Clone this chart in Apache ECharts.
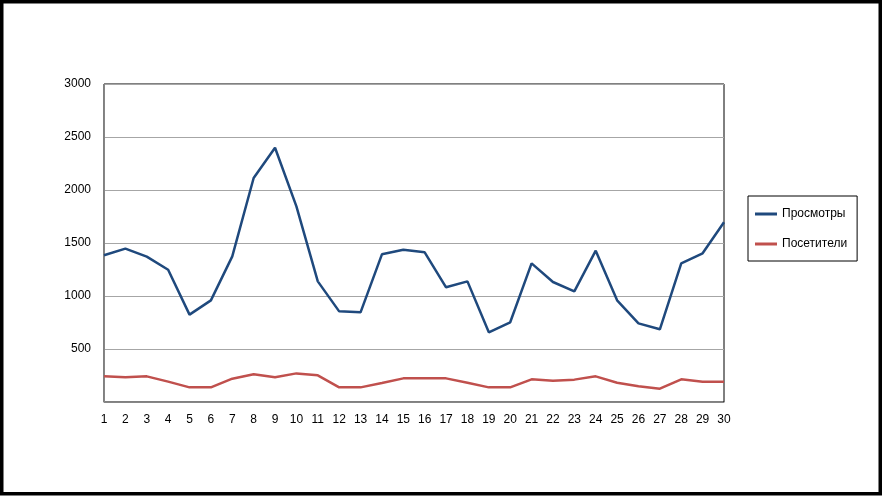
<!DOCTYPE html>
<html>
<head>
<meta charset="utf-8">
<script src="https://cdn.jsdelivr.net/npm/echarts@6/dist/echarts.min.js"></script>
<style>
html,body{margin:0;padding:0;background:#fff;}
#c{width:882px;height:497px;}
</style>
</head>
<body>
<div id="c"></div>
<script>
const days = ['1','2','3','4','5','6','7','8','9','10','11','12','13','14','15','16','17','18','19','20','21','22','23','24','25','26','27','28','29','30'];
const views = [1384,1447,1371,1248,824,959,1374,2113,2399,1846,1138,855,846,1393,1437,1412,1082,1138,657,752,1308,1132,1044,1428,959,742,686,1308,1403,1695];
const visitors = [242,233,242,192,138,138,220,261,233,270,252,138,138,179,223,223,223,182,138,138,214,201,211,242,182,148,126,214,192,192];
const seriesNames = ['Просмотры','Посетители'];
const yTicks = {min:0, max:3000, step:500};

const font = 'Liberation Sans';
const chart = echarts.init(document.getElementById('c'), null, {renderer:'canvas'});
chart.setOption({
  animation:false,
  backgroundColor:'#fff',
  graphic:[{
    type:'rect', silent:true, z:100,
    shape:{x:1.75, y:1.75, width:878.5, height:492},
    style:{fill:'none', stroke:'#000', lineWidth:3.5}
  }],
  grid:{left:104, right:158, top:84, bottom:95, show:true, borderColor:'#000', borderWidth:1, backgroundColor:'transparent'},
  legend:{
    orient:'vertical', left:748, top:196,
    padding:[12,10,11,7],
    itemGap:18,
    itemWidth:22, itemHeight:3,
    icon:'rect',
    borderColor:'#000', borderWidth:1,
    textStyle:{fontFamily:font, fontSize:12, color:'#000'},
    data:seriesNames
  },
  xAxis:{
    type:'category', boundaryGap:false, data:days,
    axisLine:{lineStyle:{color:'#868686', width:1}},
    axisTick:{show:false},
    axisLabel:{color:'#000', fontFamily:font, fontSize:12, margin:12, interval:0},
    splitLine:{show:false}
  },
  yAxis:{
    type:'value', min:yTicks.min, max:yTicks.max, interval:yTicks.step,
    axisLine:{show:true, lineStyle:{color:'#868686', width:1}},
    axisTick:{show:false},
    axisLabel:{color:'#000', fontFamily:font, fontSize:12, margin:13,
      formatter:v=> v===0 ? '' : String(v)},
    splitLine:{show:true, lineStyle:{color:'#A6A6A6', width:1}}
  },
  series:[
    {name:seriesNames[0], type:'line', data:views, symbol:'none', showSymbol:false,
     lineStyle:{color:'#1F497D', width:2.5}, itemStyle:{color:'#1F497D'}},
    {name:seriesNames[1], type:'line', data:visitors, symbol:'none', showSymbol:false,
     lineStyle:{color:'#C0504D', width:2.5}, itemStyle:{color:'#C0504D'}}
  ]
});
</script>
</body>
</html>
